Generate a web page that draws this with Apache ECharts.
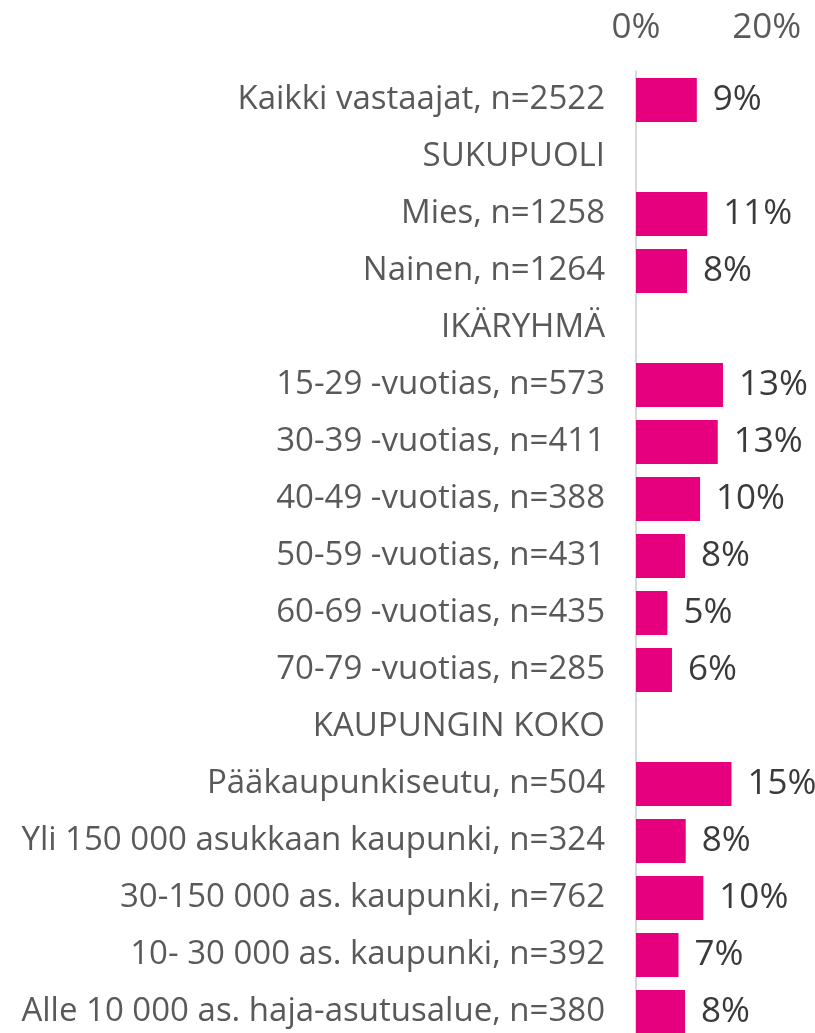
<!DOCTYPE html>
<html>
<head>
<meta charset="utf-8">
<script src="https://cdn.jsdelivr.net/npm/echarts@6/dist/echarts.min.js"></script>
<style>html,body{margin:0;padding:0;background:#fff}#c{width:815px;height:1033px}</style>
</head>
<body>
<div id="c"></div>
<script>
const categories = [
  "Kaikki vastaajat, n=2522",
  "SUKUPUOLI",
  "Mies, n=1258",
  "Nainen, n=1264",
  "IKÄRYHMÄ",
  "15-29 -vuotias, n=573",
  "30-39 -vuotias, n=411",
  "40-49 -vuotias, n=388",
  "50-59 -vuotias, n=431",
  "60-69 -vuotias, n=435",
  "70-79 -vuotias, n=285",
  "KAUPUNGIN KOKO",
  "Pääkaupunkiseutu, n=504",
  "Yli 150 000 asukkaan kaupunki, n=324",
  "30-150 000 as. kaupunki, n=762",
  "10- 30 000 as. kaupunki, n=392",
  "Alle 10 000 as. haja-asutusalue, n=380"
];
const values = [9.3, null, 10.9, 7.8, null, 13.3, 12.5, 9.8, 7.5, 4.8, 5.5, null, 14.6, 7.6, 10.3, 6.5, 7.5];
const xTicks = [0, 20];

const chart = echarts.init(document.getElementById('c'), null, {renderer: 'canvas'});
const font = 'Open Sans';
chart.setOption({
  animation: false,
  backgroundColor: '#ffffff',
  grid: {left: 636, top: 71.5, width: 130.8, height: 969, containLabel: false, outerBoundsMode: 'none'},
  xAxis: {
    type: 'value', position: 'top', min: xTicks[0], max: xTicks[xTicks.length - 1], interval: 20,
    axisLine: {show: false}, axisTick: {show: false}, splitLine: {show: false},
    axisLabel: {formatter: '{value}%', color: '#595959', fontSize: 35, fontFamily: font, margin: 26}
  },
  yAxis: {
    type: 'category', inverse: true, data: categories,
    axisLine: {show: true, lineStyle: {color: '#d9d9d9', width: 2}},
    axisTick: {show: false},
    axisLabel: {color: '#595959', fontSize: 33, fontFamily: font, margin: 31}
  },
  series: [{
    type: 'bar', data: values, barCategoryGap: '23%',
    itemStyle: {color: '#E6007E'},
    label: {
      show: true, position: 'right', distance: 16,
      formatter: p => p.value == null ? '' : Math.round(p.value) + '%',
      color: '#3a3a3a', fontSize: 35, fontFamily: font
    }
  }]
});
</script>
</body>
</html>
